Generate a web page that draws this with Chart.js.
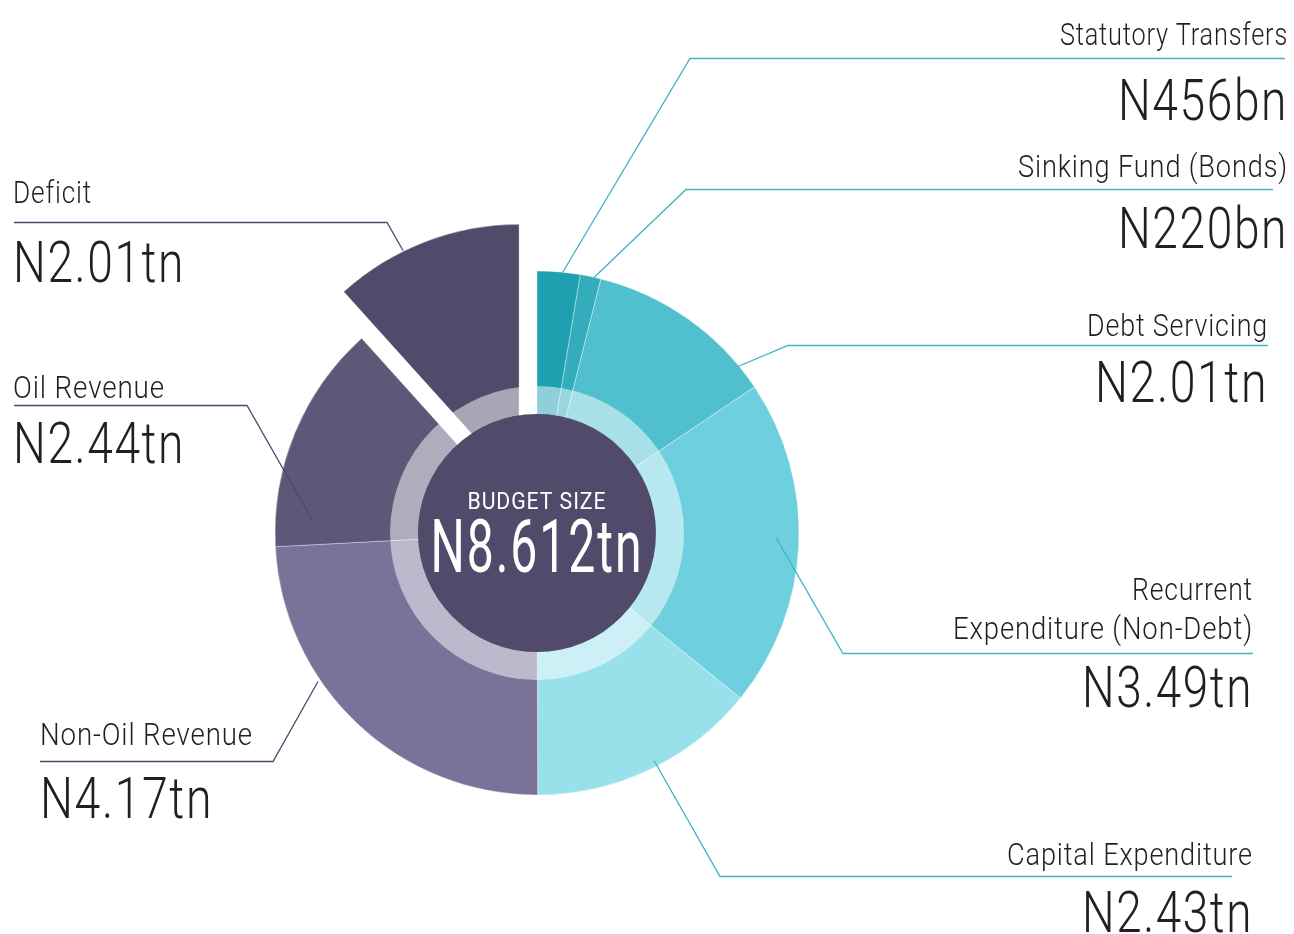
<!DOCTYPE html>
<html>
<head>
<meta charset="utf-8">
<script src="https://cdn.jsdelivr.net/npm/chart.js@4.4.1/dist/chart.umd.min.js"></script>
<style>
html, body { margin: 0; padding: 0; background: #fff; }
canvas { display: block; }
</style>
</head>
<body>
<canvas id="budget" width="1294" height="934"></canvas>
<script>
// values in N billion, clockwise from 12 o'clock
var categories = ['Statutory Transfers', 'Sinking Fund (Bonds)', 'Debt Servicing', 'Recurrent Expenditure (Non-Debt)', 'Capital Expenditure', 'Non-Oil Revenue', 'Oil Revenue', 'Deficit'];
var values = [456, 220, 2010, 3490, 2430, 4170, 2440, 2010];
var valueLabels = ['N456bn', 'N220bn', 'N2.01tn', 'N3.49tn', 'N2.43tn', 'N4.17tn', 'N2.44tn', 'N2.01tn'];
var nameLines = [['Statutory Transfers'], ['Sinking Fund (Bonds)'], ['Debt Servicing'], ['Recurrent', 'Expenditure (Non-Debt)'], ['Capital Expenditure'], ['Non-Oil Revenue'], ['Oil Revenue'], ['Deficit']];
var centerTitle = 'BUDGET SIZE';
var centerValue = 'N8.612tn';

var colors = ['#1f9fb0', '#33acbc', '#50c0cf', '#6ed0de', '#98e1eb', '#7a7298', '#5e5878', '#514a6b'];
var explode = [0, 0, 0, 0, 0, 0, 0, 50];

var FONT = 'Roboto, "Liberation Sans", sans-serif';
var INK = '#231f20';

// where each label sits and how its leader line runs
var notes = [
    {align: 'right', x: 1288, nameY: [45], nameW: [228], valY: 120, valW: 170, line: '#3cb4c4', path: [[1285, 58], [690, 58], [562, 273]]},
    {align: 'right', x: 1288, nameY: [177], nameW: [270], valY: 248, valW: 170, line: '#3cb4c4', path: [[1273, 189], [686, 189], [594, 277]]},
    {align: 'right', x: 1268, nameY: [336], nameW: [181], valY: 402, valW: 173, line: '#3cb4c4', path: [[1268, 345], [788, 345], [738, 366]]},
    {align: 'right', x: 1253, nameY: [600, 639], nameW: [121, 300], valY: 707, valW: 171, line: '#3cb4c4', path: [[1253, 653], [843, 653], [776, 537]]},
    {align: 'right', x: 1253, nameY: [865], nameW: [246], valY: 932, valW: 171, line: '#3cb4c4', path: [[1232, 876], [720, 876], [654, 760]]},
    {align: 'left', x: 40, nameY: [745], nameW: [213], valY: 818, valW: 173, line: '#4e4869', path: [[40, 761], [273, 761], [318, 681]]},
    {align: 'left', x: 13, nameY: [398], nameW: [152], valY: 463, valW: 172, line: '#4e4869', path: [[14, 405], [247, 405], [313, 521]]},
    {align: 'left', x: 13, nameY: [203], nameW: [79], valY: 282, valW: 172, line: '#4e4869', path: [[14, 222], [387, 222], [403, 250]]}
];

fitText = function(ctx, text, x, y, size, width, align, color, weight) {
    ctx.save();
    ctx.font = (weight || 300) + ' ' + size + 'px ' + FONT;
    ctx.letterSpacing = Math.round(size * 0.04) + 'px';
    ctx.fillStyle = color;
    ctx.textAlign = align;
    ctx.textBaseline = 'alphabetic';
    var w = ctx.measureText(text).width;
    ctx.translate(x, y);
    ctx.scale(width / w, 1);
    ctx.fillText(text, 0, 0);
    ctx.restore();
}

// pull exploded slices out along their middle angle
var explodePlugin = {
    id: 'explode',
    beforeDatasetDraw: function(chart, args) {
        var ctx = chart.ctx;
        args.meta.data.forEach(function(arc, i) {
            var mid = (arc.startAngle + arc.endAngle) / 2;
            var push = explode[i] || 0;
            ctx.save();
            ctx.translate(Math.cos(mid) * push, Math.sin(mid) * push);
            arc.draw(ctx);
            ctx.restore();
        });
        return false;
    }
};

var centerPlugin = {
    id: 'center',
    afterDatasetsDraw: function(chart) {
        var ctx = chart.ctx;
        var arc = chart.getDatasetMeta(0).data[0];
        var cx = arc.x, cy = arc.y, R = arc.outerRadius;
        ctx.save();
        ctx.beginPath();
        ctx.arc(cx, cy, R * 0.561, 0, Math.PI * 2);
        ctx.arc(cx, cy, R * 0.454, 0, Math.PI * 2, true);
        ctx.fillStyle = 'rgba(255,255,255,0.5)';
        ctx.fill();
        ctx.beginPath();
        ctx.arc(cx, cy, R * 0.454, 0, Math.PI * 2);
        ctx.fillStyle = '#514a6b';
        ctx.fill();
        ctx.restore();
        fitText(ctx, centerTitle, cx, cy - 24, 23, 139, 'center', '#ffffff', 400);
        fitText(ctx, centerValue, cx, cy + 39, 74, 213, 'center', '#ffffff', 400);
    }
};

var notesPlugin = {
    id: 'notes',
    afterDraw: function(chart) {
        var ctx = chart.ctx;
        notes.forEach(function(n, i) {
            ctx.save();
            ctx.strokeStyle = n.line;
            ctx.lineWidth = 1.3;
            ctx.beginPath();
            n.path.forEach(function(p, k) {
                if (k === 0) ctx.moveTo(p[0], p[1] + 0.5);
                else ctx.lineTo(p[0], p[1] + 0.5);
            });
            ctx.stroke();
            ctx.restore();
            nameLines[i].forEach(function(t, k) {
                fitText(ctx, t, n.x, n.nameY[k], 32, n.nameW[k], n.align, INK);
            });
            fitText(ctx, valueLabels[i], n.x, n.valY, 58, n.valW, n.align, INK);
        });
    }
};

new Chart(document.getElementById('budget'), {
    type: 'pie',
    data: {
        labels: categories,
        datasets: [{
            data: values,
            backgroundColor: colors,
            borderColor: 'rgba(255,255,255,0.35)',
            borderWidth: 1
        }]
    },
    options: {
        responsive: false,
        animation: false,
        radius: 262,
        layout: {padding: {left: 0, right: 220, top: 132, bottom: 0}},
        plugins: {
            legend: {display: false},
            tooltip: {enabled: false}
        }
    },
    plugins: [explodePlugin, centerPlugin, notesPlugin]
});
</script>
</body>
</html>
